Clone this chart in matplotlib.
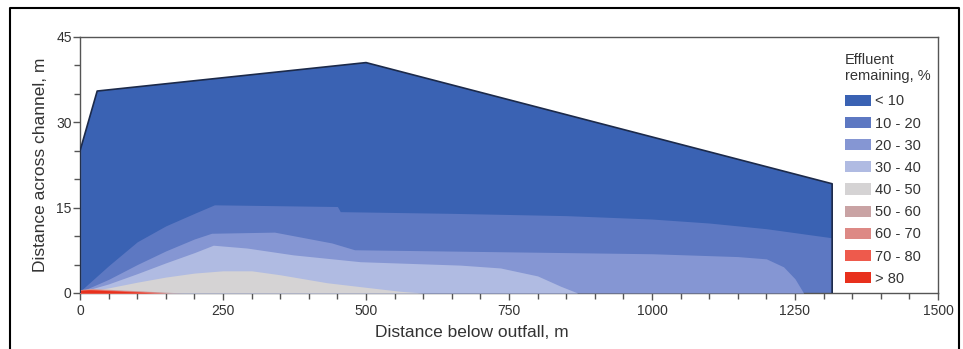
import numpy as np
import matplotlib
matplotlib.use('Agg')
import matplotlib.pyplot as plt
from matplotlib.patches import Patch
from matplotlib.lines import Line2D

plt.rcParams['font.family'] = ['Liberation Sans', 'DejaVu Sans']

# channel edge (outer boundary of the modelled plume area)
edge_x = [0, 30, 500, 1315]
edge_y = [25, 35.5, 40.5, 19.2]

# upper boundary of each concentration band (distance below outfall, distance across)
c10_x = [0, 50, 100, 150, 200, 235, 450, 455, 650, 850, 1000, 1100, 1200, 1315]
c10_y = [0.3, 4.8, 9.0, 11.8, 14.0, 15.5, 15.2, 14.3, 14.0, 13.6, 13.0, 12.3, 11.3, 9.7]

c20_x = [0, 50, 100, 150, 200, 230, 340, 440, 480, 700, 1000, 1150, 1200, 1230, 1250, 1265]
c20_y = [0.2, 2.4, 5.0, 7.4, 9.5, 10.5, 10.7, 8.8, 7.6, 7.3, 6.9, 6.4, 6.0, 4.6, 2.5, 0]

c30_x = [0, 50, 100, 150, 200, 233, 292, 373, 490, 665, 735, 800, 840, 870]
c30_y = [0.15, 1.6, 3.4, 5.3, 7.1, 8.4, 7.9, 6.7, 5.5, 4.9, 4.4, 3.0, 1.2, 0]

c40_x = [0, 50, 100, 150, 200, 250, 300, 350, 432, 500, 560, 600]
c40_y = [0.1, 0.9, 1.9, 2.8, 3.5, 3.9, 3.9, 3.2, 1.8, 1.0, 0.3, 0]

c50_x = [0, 20, 60, 120, 180]
c50_y = [0.6, 0.8, 0.6, 0.3, 0]
c60_x = [0, 20, 60, 120, 160]
c60_y = [0.55, 0.7, 0.5, 0.25, 0]
c70_x = [0, 20, 60, 110, 150]
c70_y = [0.5, 0.6, 0.45, 0.2, 0]
c80_x = [0, 15, 50, 100, 130]
c80_y = [0.45, 0.55, 0.4, 0.15, 0]

labels = ['< 10', '10 - 20', '20 - 30', '30 - 40', '40 - 50',
          '50 - 60', '60 - 70', '70 - 80', '> 80']
colors = ['#3a62b3', '#5d78c2', '#8596d3', '#b0bbe2', '#d5d3d4',
          '#c9a3a4', '#dd8985', '#ee5a4c', '#e8301c']

fig = plt.figure(figsize=(9.63, 3.49), dpi=100)
ax = fig.add_axes([0.0831, 0.1605, 0.8909, 0.7335])

# outer area (< 10 %)
ax.fill([0] + edge_x + [edge_x[-1]], [0] + edge_y + [0],
        color=colors[0], linewidth=0, zorder=1)

bands = [(c10_x, c10_y), (c20_x, c20_y), (c30_x, c30_y), (c40_x, c40_y),
         (c50_x, c50_y), (c60_x, c60_y), (c70_x, c70_y), (c80_x, c80_y)]
for i, (bx, by) in enumerate(bands):
    ax.fill_between(bx, 0, by, color=colors[i + 1], linewidth=0, zorder=2 + i)

# outline along channel edge
ax.plot([0] + edge_x + [edge_x[-1]], [0] + edge_y + [0],
        color='#1c2a4a', linewidth=1.2, zorder=20)

ax.set_xlim(0, 1500)
ax.set_ylim(0, 45)
ax.set_xticks(np.arange(0, 1501, 250))
ax.set_xticks(np.arange(0, 1501, 50), minor=True)
ax.set_yticks([0, 15, 30, 45])
ax.set_yticks(np.arange(0, 46, 5), minor=True)
ax.tick_params(which='both', direction='out', colors='#555555',
               labelcolor='#333333', labelsize=10)
ax.tick_params(which='major', length=5, width=1)
ax.tick_params(which='minor', length=4, width=1)
ax.tick_params(axis='x', pad=3)
ax.tick_params(axis='y', pad=1)
for s in ax.spines.values():
    s.set_color('#555555')
    s.set_linewidth(1)

ax.set_xlabel('Distance below outfall, m', fontsize=12.5, color='#333333',
              labelpad=5, x=0.457)
ax.set_ylabel('Distance across channel, m', fontsize=12.5, color='#333333', labelpad=6)

handles = [Patch(facecolor=c, edgecolor='none') for c in colors]
leg = ax.legend(handles, labels, title='Effluent\nremaining, %',
                loc='upper left', bbox_to_anchor=(0.885, 0.96),
                frameon=False, fontsize=10.5, title_fontsize=10.5,
                handlelength=1.75, handleheight=0.8, handletextpad=0.3,
                labelspacing=0.56, borderaxespad=0)
leg._legend_box.align = 'left'
leg._legend_box.sep = 8
for t in leg.get_texts():
    t.set_color('#333333')
leg.get_title().set_color('#333333')

# outer frame around the figure
x0, x1, y0 = 10 / 963, 959 / 963, 1 - 8 / 349
fig.add_artist(Line2D([x0, x0, x1, x1], [0, y0, y0, 0], transform=fig.transFigure,
                      color='black', linewidth=1.5))

fig.savefig('out.png', dpi=100)
